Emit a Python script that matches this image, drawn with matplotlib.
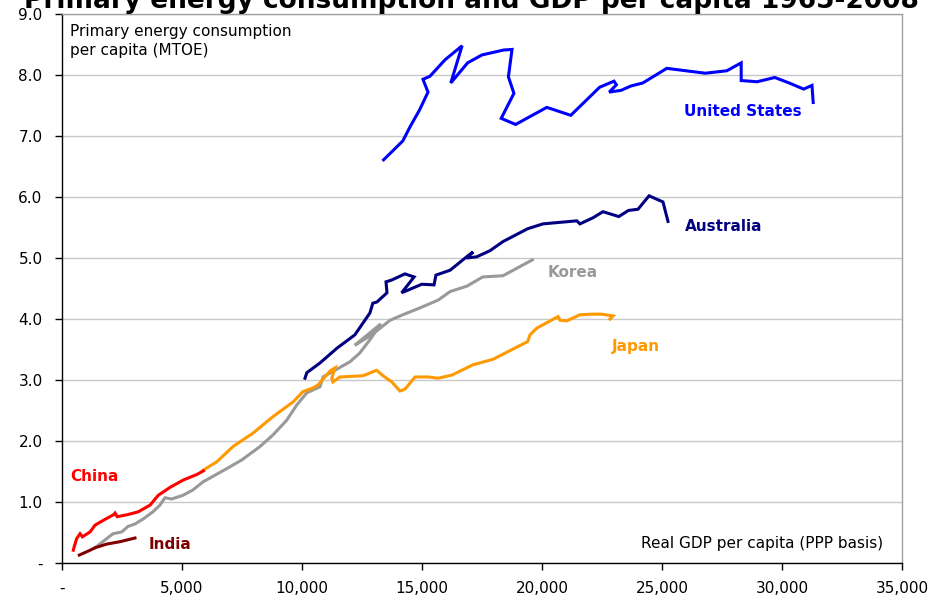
import matplotlib
matplotlib.use("Agg")
import matplotlib.pyplot as plt
from matplotlib.ticker import FuncFormatter, MultipleLocator

# GDP per capita (thousand USD, PPP) and energy per capita (MTOE)
us_gdp = [13.4, 14.2, 14.5, 14.9, 15.25, 15.04, 15.33, 15.96, 16.67, 16.2, 16.9, 17.5, 18.4,
          18.75, 18.6, 18.83, 18.3, 18.9, 20.2, 21.2, 22.4, 23.0, 23.1, 22.8, 23.3, 23.7, 24.2,
          25.2, 26.8, 27.7, 28.3, 28.3, 28.96, 29.7, 30.3, 30.9, 31.25, 31.3]
us_energy = [6.61, 6.92, 7.15, 7.43, 7.72, 7.93, 7.98, 8.25, 8.48, 7.87, 8.2, 8.33, 8.41,
             8.42, 7.97, 7.70, 7.29, 7.19, 7.47, 7.34, 7.80, 7.90, 7.84, 7.72, 7.75, 7.82, 7.87,
             8.11, 8.03, 8.07, 8.20, 7.91, 7.89, 7.96, 7.87, 7.77, 7.83, 7.55]

aus_gdp = [10.125, 10.2, 10.75, 11.45, 12.2, 12.83, 12.95, 13.125, 13.54, 13.5, 13.74, 14.29,
           14.67, 14.15, 14.99, 15.5, 15.58, 16.17, 16.86, 17.125, 16.86, 17.28, 17.83, 18.375,
           19.4, 20.04, 21.45, 21.58, 22.125, 22.54, 23.2, 23.6, 24.0, 24.46, 25.04, 25.25]
aus_energy = [3.03, 3.12, 3.28, 3.52, 3.74, 4.10, 4.26, 4.28, 4.43, 4.61, 4.64, 4.74,
              4.69, 4.43, 4.57, 4.56, 4.72, 4.80, 5.02, 5.10, 5.00, 5.02, 5.12, 5.27,
              5.48, 5.56, 5.61, 5.56, 5.66, 5.76, 5.68, 5.78, 5.80, 6.02, 5.92, 5.60]

kor_gdp = [1.375, 2.125, 2.49, 2.75, 3.04, 3.375, 3.79, 4.08, 4.29, 4.57, 5.04, 5.46, 5.875,
           6.375, 6.92, 7.49, 8.25, 8.79, 9.36, 9.78, 10.2, 10.75, 10.875, 12.0, 12.4, 12.83,
           13.28, 12.2, 12.9, 13.67, 14.2, 14.9, 15.67, 16.17, 16.875, 17.53, 18.375, 19.08, 19.6]
kor_energy = [0.25, 0.48, 0.51, 0.60, 0.64, 0.72, 0.84, 0.95, 1.07, 1.05, 1.11, 1.20, 1.33,
              1.44, 1.56, 1.69, 1.91, 2.10, 2.34, 2.59, 2.79, 2.89, 3.05, 3.30, 3.44, 3.66,
              3.92, 3.57, 3.74, 3.98, 4.07, 4.18, 4.31, 4.45, 4.54, 4.69, 4.71, 4.86, 4.97]

jpn_gdp = [5.875, 6.45, 7.125, 7.96, 8.79, 9.625, 10.04, 10.46, 10.67, 11.17, 11.375, 11.24,
           11.29, 11.58, 12.54, 13.11, 13.375, 13.74, 14.08, 14.29, 14.71, 15.25, 15.67, 16.24,
           17.125, 17.96, 19.4, 19.5, 19.78, 20.2, 20.67, 20.75, 21.03, 21.58, 22.125, 22.49,
           22.96, 22.83]
jpn_energy = [1.52, 1.66, 1.91, 2.13, 2.40, 2.64, 2.81, 2.87, 2.92, 3.15, 3.20, 3.03,
              2.97, 3.05, 3.07, 3.16, 3.07, 2.97, 2.82, 2.85, 3.05, 3.05, 3.03, 3.08,
              3.25, 3.34, 3.63, 3.74, 3.85, 3.94, 4.04, 3.98, 3.97, 4.07, 4.08, 4.08,
              4.05, 4.00]

chn_gdp = [0.47, 0.51, 0.61, 0.75, 0.85, 1.17, 1.375, 1.72, 2.14, 2.21, 2.30, 2.70, 3.18,
           3.67, 4.01, 4.5, 5.05, 5.61, 5.89]
chn_energy = [0.21, 0.27, 0.40, 0.48, 0.43, 0.51, 0.62, 0.70, 0.79, 0.82, 0.76, 0.79, 0.84,
              0.95, 1.11, 1.24, 1.36, 1.45, 1.51]

ind_gdp = [0.72, 0.89, 1.17, 1.375, 1.86, 2.42, 3.04]
ind_energy = [0.13, 0.16, 0.21, 0.25, 0.31, 0.35, 0.41]

series = [
    ("United States", us_gdp, us_energy, "#0000FF", (25.9, 7.41)),
    ("Australia", aus_gdp, aus_energy, "#000080", (25.95, 5.52)),
    ("Korea", kor_gdp, kor_energy, "#999999", (20.25, 4.76)),
    ("Japan", jpn_gdp, jpn_energy, "#FF9900", (22.9, 3.55)),
    ("China", chn_gdp, chn_energy, "#FF0000", (0.35, 1.42)),
    ("India", ind_gdp, ind_energy, "#800000", (3.6, 0.3)),
]

fig = plt.figure(figsize=(9.44, 5.98), dpi=100)
ax = fig.add_axes([0.0657, 0.0585, 0.8898, 0.918])

for name, gx, ey, col, pos in series:
    ax.plot([g * 1000 for g in gx], ey, color=col, lw=2.2, solid_joinstyle="miter")
    ax.text(pos[0] * 1000, pos[1], name, color=col, fontsize=11, fontweight="bold",
            ha="left", va="center")

ax.set_xlim(0, 35000)
ax.set_ylim(0, 9)
ax.xaxis.set_major_locator(MultipleLocator(5000))
ax.yaxis.set_major_locator(MultipleLocator(1))
ax.xaxis.set_major_formatter(FuncFormatter(lambda v, p: "-" if v == 0 else f"{v:,.0f}"))
ax.yaxis.set_major_formatter(FuncFormatter(lambda v, p: "-" if v == 0 else f"{v:.1f}"))
ax.tick_params(axis="both", direction="out", length=5, width=1, labelsize=11)
ax.tick_params(axis="x", pad=8)
ax.tick_params(axis="y", pad=9)

ax.grid(axis="y", color="#C8C8C8", lw=1)
ax.set_axisbelow(True)
for s in ["left", "bottom"]:
    ax.spines[s].set_color("black")
    ax.spines[s].set_linewidth(1)
for s in ["top", "right"]:
    ax.spines[s].set_color("#A0A0A0")
    ax.spines[s].set_linewidth(1)

ax.text(0.01, 0.982, "Primary energy consumption\nper capita (MTOE)", transform=ax.transAxes,
        fontsize=11, ha="left", va="top", linespacing=1.3)
ax.text(0.977, 0.022, "Real GDP per capita (PPP basis)", transform=ax.transAxes,
        fontsize=11, ha="right", va="bottom")

fig.text(0.499, 0.9866, "Primary energy consumption and GDP per capita 1965-2008",
         fontsize=19, fontweight="bold", ha="center", va="baseline")

fig.savefig("out.png", dpi=100)
